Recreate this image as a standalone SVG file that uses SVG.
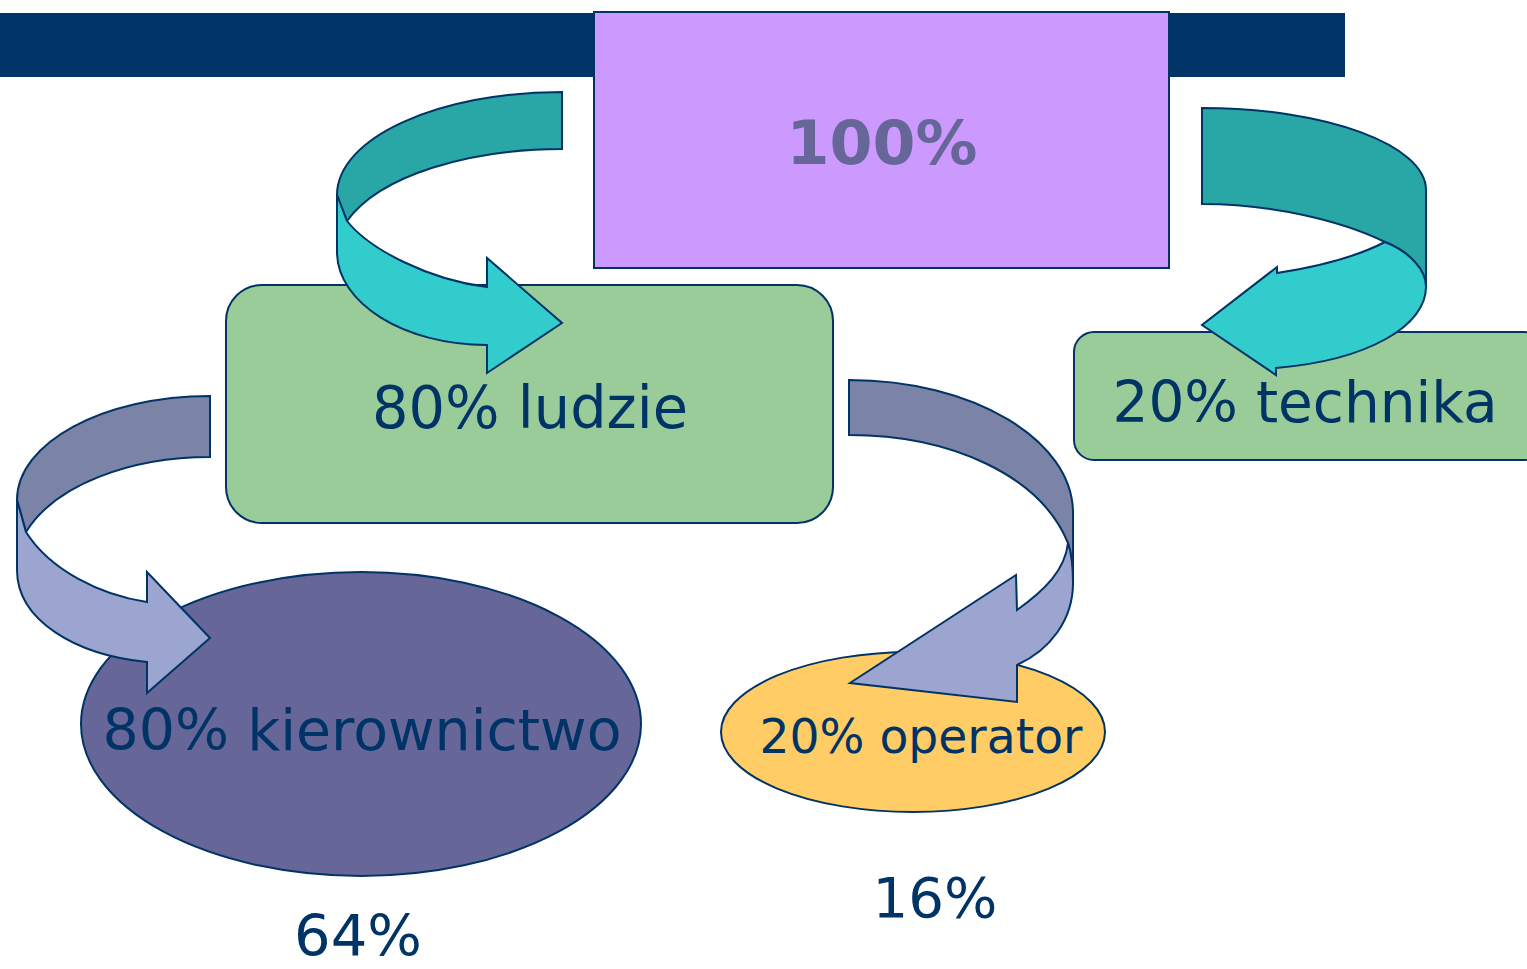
<svg xmlns="http://www.w3.org/2000/svg" width="1527" height="969" viewBox="0 0 1527 969">
<style>
.lbl{font-family:"DejaVu Sans","Liberation Sans",sans-serif;fill:#003366;}
.node{stroke:#003366;stroke-width:2;}
.arr{stroke:#003366;stroke-width:2;stroke-linejoin:miter;}
.tealD{fill:#29A6A6;}
.tealL{fill:#33CCCC;}
.blueD{fill:#7B83A6;}
.blueL{fill:#9CA4D0;}
</style>
<rect width="1527" height="969" fill="#FFFFFF"/>
<rect id="topbar" x="0" y="13" width="1345" height="64" fill="#003366"/>

<g id="node-100">
<rect class="node" x="594" y="12" width="575" height="256" fill="#CC99FF"/>
<text x="882" y="164" text-anchor="middle" font-family="'DejaVu Sans','Liberation Sans',sans-serif" font-weight="bold" font-size="60" fill="#666699" textLength="191" lengthAdjust="spacingAndGlyphs">100%</text>
</g>

<g id="node-ludzie">
<rect class="node" x="226" y="285" width="607" height="238" rx="36" fill="#99CC99"/>
<text class="lbl" x="530" y="428" text-anchor="middle" font-size="58" textLength="316" lengthAdjust="spacingAndGlyphs">80% ludzie</text>
</g>

<g id="node-technika">
<rect class="node" x="1074" y="332" width="470" height="128" rx="20" fill="#99CC99"/>
<text class="lbl" x="1305" y="422" text-anchor="middle" font-size="57" textLength="385" lengthAdjust="spacingAndGlyphs">20% technika</text>
</g>

<g id="node-kierownictwo">
<ellipse class="node" cx="361" cy="724" rx="280" ry="152" fill="#666699"/>
<text class="lbl" x="362" y="750" text-anchor="middle" font-size="57" textLength="519" lengthAdjust="spacingAndGlyphs">80% kierownictwo</text>
</g>

<g id="node-operator">
<ellipse class="node" cx="913" cy="732" rx="192" ry="80" fill="#FFCC66"/>
<text class="lbl" x="921" y="753" text-anchor="middle" font-size="48" textLength="323" lengthAdjust="spacingAndGlyphs">20% operator</text>
</g>

<g id="label-16">
<text class="lbl" x="935" y="917" text-anchor="middle" font-size="56" textLength="125" lengthAdjust="spacingAndGlyphs">16%</text>
</g>
<g id="label-64">
<text class="lbl" x="358" y="956" text-anchor="middle" font-size="57" textLength="128" lengthAdjust="spacingAndGlyphs">64%</text>
</g>

<g id="connectors">
<g id="arrow-ludzie">
<path class="arr tealD" d="M562,92 C438,92 337,138 337,195 L347,221 C380,175 470,149 562,149 Z"/>
<path class="arr tealL" d="M337,195 L347,221 C370,250 430,280 487,287 L487,258 L562,323 L487,373 L487,345 C404,345 337,303 337,252 Z"/>
</g>
<g id="arrow-technika">
<path class="arr tealD" d="M1202,108 C1326,108 1426,145 1426,190 L1426,287 C1426,270 1410,252 1385,242 C1340,220 1270,204 1202,204 Z"/>
<path class="arr tealL" d="M1385,242 C1350,260 1310,268 1277,273 L1277,267 L1202,325 L1276,375 L1276,368 C1370,360 1426,325 1426,287 C1426,270 1410,252 1385,242 Z"/>
</g>
<g id="arrow-kierownictwo">
<path class="arr blueD" d="M210,396 C103,396 17,443 17,500 L26,532 C55,485 130,457 210,457 Z"/>
<path class="arr blueL" d="M17,500 L26,532 C50,570 100,595 147,602 L147,572 L210,638 L147,693 L147,662 C75,655 17,620 17,570 Z"/>
</g>
<g id="arrow-operator">
<path class="arr blueD" d="M849,380 C973,380 1073,440 1073,513 L1073,583 C1073,570 1072,555 1068,543 C1040,475 950,435 849,435 Z"/>
<path class="arr blueL" d="M1068,543 C1072,555 1073,570 1073,583 C1073,620 1050,650 1017,665 L1017,702 L850,683 L1016,575 L1017,610 C1045,590 1065,570 1068,543 Z"/>
</g>
</g>
</svg>
